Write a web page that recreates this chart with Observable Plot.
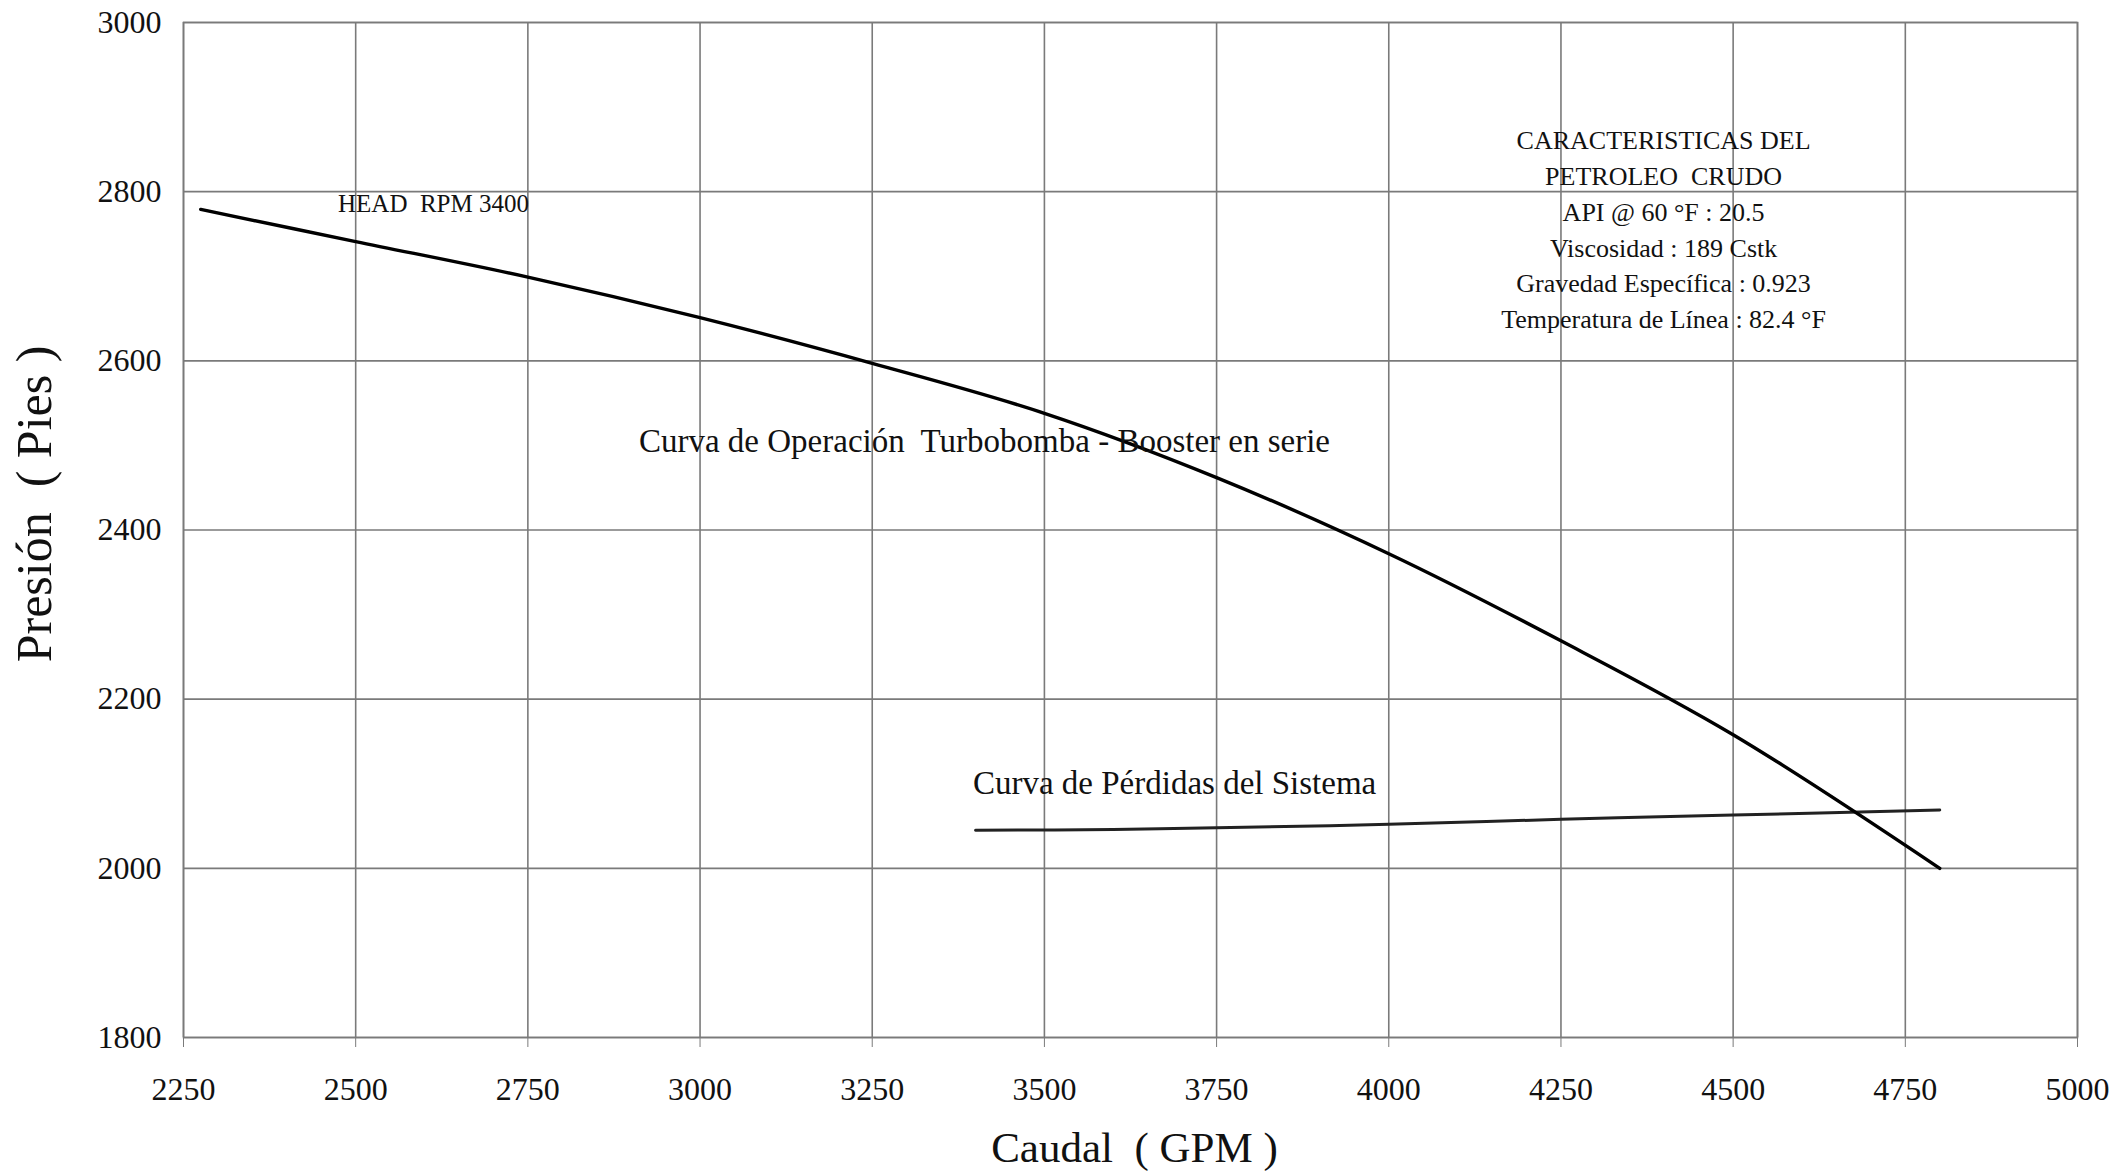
<!DOCTYPE html>
<html>
<head>
<meta charset="utf-8">
<script src="https://cdn.jsdelivr.net/npm/d3@7"></script>
<script src="https://cdn.jsdelivr.net/npm/@observablehq/plot@0.6"></script>
<style>
  html, body { margin: 0; padding: 0; background: #fff; }
  #chart svg { display: block; }
</style>
</head>
<body>
<div id="chart"></div>
<script>
// Curva de Operación Turbobomba - Booster en serie
const pumpCaudal  = [2275, 2500, 2750, 3000, 3250, 3500, 3750, 4000, 4250, 4500, 4800];
const pumpPresion = [2779, 2741, 2699, 2651, 2597, 2538, 2462, 2372, 2269, 2158, 2000];

// Curva de Pérdidas del Sistema
const sysCaudal  = [3400, 3600, 3750, 4000, 4250, 4500, 4800];
const sysPresion = [2045, 2046, 2048, 2052, 2058, 2063, 2069];

const xTicks = [2250, 2500, 2750, 3000, 3250, 3500, 3750, 4000, 4250, 4500, 4750, 5000];
const yTicks = [1800, 2000, 2200, 2400, 2600, 2800, 3000];

const infoLines = [
  "CARACTERISTICAS DEL",
  "PETROLEO  CRUDO",
  "API @ 60 °F : 20.5",
  "Viscosidad : 189 Cstk",
  "Gravedad Específica : 0.923",
  "Temperatura de Línea : 82.4 °F"
];

const pump = pumpCaudal.map((x, i) => ({x, y: pumpPresion[i]}));
const sys = sysCaudal.map((x, i) => ({x, y: sysPresion[i]}));

const chart = Plot.plot({
  width: 2122,
  height: 1176,
  marginLeft: 183,
  marginRight: 45,
  marginTop: 22,
  marginBottom: 139,
  style: {fontFamily: "'Liberation Serif', 'Times New Roman', serif", color: "#111", background: "#fff"},
  x: {domain: [2250, 5000]},
  y: {domain: [1800, 3000]},
  marks: [
    Plot.gridX(xTicks, {stroke: "#7a7a7a", strokeOpacity: 1, strokeWidth: 1.6}),
    Plot.gridY(yTicks, {stroke: "#7a7a7a", strokeOpacity: 1, strokeWidth: 1.6}),
    Plot.axisX({ticks: xTicks, tickSize: 10, tickPadding: 30, stroke: "#7a7a7a", fontSize: 32,
      tickFormat: d => String(d), label: null}),
    Plot.axisY({ticks: yTicks, tickSize: 0, tickPadding: 22, fontSize: 32,
      tickFormat: d => String(d), label: null}),
    Plot.text(["Caudal  ( GPM )"], {frameAnchor: "bottom", textAnchor: "middle", lineAnchor: "middle", dx: 4, dy: 111, fontSize: 43, fill: "#111"}),
    Plot.text(["Presión  ( Pies )"], {frameAnchor: "left", textAnchor: "middle", lineAnchor: "middle", rotate: -90, dx: -149, dy: -26, fontSize: 50, fill: "#111"}),
    Plot.line(sys, {x: "x", y: "y", stroke: "#222", strokeWidth: 3, curve: "catmull-rom"}),
    Plot.line(pump, {x: "x", y: "y", stroke: "#000", strokeWidth: 3.4, curve: "catmull-rom"}),
    Plot.text(["HEAD  RPM 3400"], {x: 2613, y: 2785, fontSize: 25, fill: "#111"}),
    Plot.text(["Curva de Operación  Turbobomba - Booster en serie"], {x: 3413, y: 2505, fontSize: 33, fill: "#111"}),
    Plot.text(["Curva de Pérdidas del Sistema"], {x: 3689, y: 2100, fontSize: 33, fill: "#111"}),
    Plot.text([infoLines.join("\n")], {x: 4399, y: 2758, fontSize: 26, lineHeight: 1.38, lineAnchor: "middle", fill: "#111"}),
    Plot.frame({stroke: "#7a7a7a", strokeWidth: 1.6})
  ]
});
document.getElementById("chart").appendChild(chart);
</script>
</body>
</html>
